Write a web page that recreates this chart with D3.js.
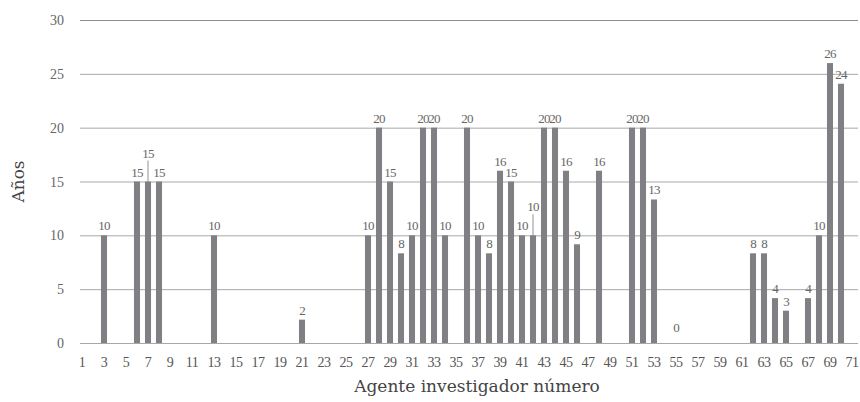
<!DOCTYPE html>
<html>
<head>
<meta charset="utf-8">
<script src="https://cdn.jsdelivr.net/npm/d3@7"></script>
<style>
  body { margin: 0; background: #fff; }
  text { font-family: "Liberation Serif", "DejaVu Serif", serif; }
  .title { font-family: "DejaVu Serif", serif; }
</style>
</head>
<body>
<div id="chart"></div>
<script>
// agents 1..71, only the odd ones get a tick label
const agents = d3.range(1, 72)
const tickAgents = agents.filter(d => d % 2 === 1)
const yTicks = [0, 5, 10, 15, 20, 25, 30]

// agents that have a value (years)
const barAgents = [3, 6, 7, 8, 13, 21, 27, 28, 29, 30, 31, 32, 33, 34, 36, 37, 38, 39, 40,
  41, 42, 43, 44, 45, 46, 48, 51, 52, 53, 55, 62, 63, 64, 65, 67, 68, 69, 70]
const barYears = [10, 15, 15, 15, 10, 2.17, 10, 20, 15, 8.33, 10, 20, 20, 10, 20, 10, 8.33, 16, 15,
  10, 10, 20, 20, 16, 9.17, 16, 20, 20, 13.33, 0, 8.33, 8.33, 4.17, 3, 4.17, 10, 26, 24.08]
// labels lifted up with a small leader line
const liftedAgents = [7, 42]

const width = 860
const height = 402
const plot = {left: 80, right: 858, top: 20, bottom: 343}

const svg = d3.select('#chart')
  .append('svg')
  .attr('width', width)
  .attr('height', height)

const x = d3.scaleBand()
  .domain(agents)
  .range([76.5, 857.5])
  .paddingInner(0.45)
  .paddingOuter(0.225)

const y = d3.scaleLinear()
  .domain([0, 30])
  .range([plot.bottom, plot.top])

// grid lines
svg.append('g')
  .selectAll('line')
  .data(yTicks)
  .join('line')
  .attr('x1', plot.left)
  .attr('x2', plot.right)
  .attr('y1', d => y(d) + 0.5)
  .attr('y2', d => y(d) + 0.5)
  .attr('stroke', d => d === 30 ? '#8c8c8c' : '#a8a8a8')
  .attr('stroke-width', 1)

// y tick labels
svg.append('g')
  .selectAll('text')
  .data(yTicks)
  .join('text')
  .attr('x', 64)
  .attr('y', d => y(d) + 5)
  .attr('text-anchor', 'end')
  .attr('font-size', 14)
  .attr('fill', '#666')
  .text(d => d)

const data = barAgents.map((a, i) => ({agent: a, years: barYears[i]}))

svg.append('g')
  .selectAll('rect')
  .data(data.filter(d => d.years > 0))
  .join('rect')
  .attr('x', d => x(d.agent))
  .attr('width', x.bandwidth())
  .attr('y', d => y(d.years))
  .attr('height', d => y(0) - y(d.years))
  .attr('fill', '#808084')

// value labels
const labels = svg.append('g')
labels.selectAll('text')
  .data(data)
  .join('text')
  .attr('x', d => x(d.agent) + x.bandwidth() / 2)
  .attr('y', d => {
    if (d.years === 0) return y(0) - 11
    return y(d.years) - (liftedAgents.includes(d.agent) ? 24 : 5)
  })
  .attr('text-anchor', 'middle')
  .attr('font-size', 13)
  .attr('letter-spacing', -0.8)
  .attr('fill', '#666')
  .text(d => Math.round(d.years))

labels.selectAll('line')
  .data(data.filter(d => liftedAgents.includes(d.agent)))
  .join('line')
  .attr('x1', d => x(d.agent) + x.bandwidth() / 2)
  .attr('x2', d => x(d.agent) + x.bandwidth() / 2)
  .attr('y1', d => y(d.years) - 21)
  .attr('y2', d => y(d.years))
  .attr('stroke', '#777')
  .attr('stroke-width', 0.8)

// x tick labels
svg.append('g')
  .selectAll('text')
  .data(tickAgents)
  .join('text')
  .attr('x', d => x(d) + x.bandwidth() / 2)
  .attr('y', y(0) + 24)
  .attr('text-anchor', 'middle')
  .attr('font-size', 14)
  .attr('letter-spacing', -0.6)
  .attr('fill', '#555')
  .text(d => d)

svg.append('text')
  .attr('class', 'title')
  .attr('x', 477)
  .attr('y', 392)
  .attr('text-anchor', 'middle')
  .attr('font-size', 17)
  .attr('fill', '#444')
  .text('Agente investigador número')

svg.append('text')
  .attr('class', 'title')
  .attr('transform', `translate(24, ${y(15)}) rotate(-90)`)
  .attr('text-anchor', 'middle')
  .attr('font-size', 17)
  .attr('fill', '#444')
  .text('Años')
</script>
</body>
</html>
